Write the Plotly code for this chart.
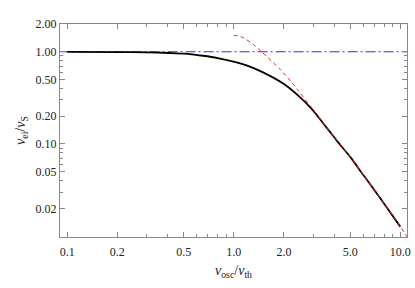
import plotly.graph_objects as go
import numpy as np

# Black solid curve (full result)
x_full = [0.1, 0.2, 0.3, 0.412, 0.5, 0.653, 0.8, 1.04, 1.25, 1.5, 1.98, 2.44, 3.0, 3.44, 4.0, 4.24, 5.0, 6.0, 7.0, 8.0, 10.0]
y_full = [0.997, 0.993, 0.985, 0.97, 0.955, 0.905, 0.855, 0.766, 0.69, 0.597, 0.452, 0.334, 0.23, 0.168, 0.119, 0.104, 0.0725, 0.046, 0.0315, 0.0225, 0.0127]

# Red dashed curve (asymptotic form)
x_asym = [1.0, 1.05, 1.14, 1.31, 1.47, 1.89, 2.27, 2.44, 3.0, 3.44, 4.0, 5.0, 6.0, 7.0, 8.0, 10.0, 11.0]
y_asym = [1.50, 1.49, 1.42, 1.20, 1.0, 0.65, 0.447, 0.378, 0.236, 0.170, 0.120, 0.0728, 0.0462, 0.0316, 0.0226, 0.0128, 0.0098]

# Dash-dot reference line
x_ref = [0.09, 11.0]
y_ref = [1.0, 1.0]

x_ticks = [0.1, 0.2, 0.5, 1.0, 2.0, 5.0, 10.0]
x_ticklabels = ["0.1", "0.2", "0.5", "1.0", "2.0", "5.0", "10.0"]
y_ticks = [0.02, 0.05, 0.1, 0.2, 0.5, 1.0, 2.0]
y_ticklabels = ["0.02", "0.05", "0.10", "0.20", "0.50", "1.00", "2.00"]

x_minor = [v * 10.0**e for e in (-2, -1, 0, 1) for v in range(1, 10)]
x_minor = [v for v in x_minor if 0.08 < v < 12 and round(v, 6) not in [round(t, 6) for t in x_ticks]]
y_minor = [v * 10.0**e for e in (-2, -1, 0) for v in range(1, 10)]
y_minor = [v for v in y_minor if 0.0095 < v < 2.05 and round(v, 6) not in [round(t, 6) for t in y_ticks]]

fig = go.Figure()
fig.add_trace(go.Scatter(x=x_ref, y=y_ref, mode="lines",
                         line=dict(color="#2e2ee6", width=1, dash="10px,3px,2px,3px"),
                         showlegend=False))
fig.add_trace(go.Scatter(x=x_full, y=y_full, mode="lines", line_shape="spline",
                         line=dict(color="black", width=1.8, smoothing=0.8), showlegend=False))
fig.add_trace(go.Scatter(x=x_asym, y=y_asym, mode="lines", line_shape="spline",
                         line=dict(color="#ff2020", width=1, dash="4px,3px", smoothing=0.8),
                         showlegend=False))

font = dict(family="Liberation Serif", size=12, color="#222222")
axis_common = dict(
    type="log", showgrid=False, zeroline=False, showline=True, linecolor="#888888",
    linewidth=1, mirror="allticks", ticks="inside", ticklen=5, tickcolor="#888888",
    tickfont=font, tickmode="array", automargin=False,
)
fig.update_xaxes(**axis_common, range=[np.log10(0.0905), np.log10(10.97)],
                 tickvals=x_ticks, ticktext=x_ticklabels, ticklabelstandoff=4,
                 minor=dict(tickvals=x_minor, ticks="inside", ticklen=3, tickcolor="#888888"),
                 title=dict(text="<i>v</i><sub>osc</sub>/<i>v</i><sub>th</sub>",
                            font=dict(family="Liberation Serif", size=14, color="#222222"),
                            standoff=6))
fig.update_yaxes(**axis_common, range=[np.log10(0.0098), np.log10(2.0)],
                 tickvals=y_ticks, ticktext=y_ticklabels,
                 minor=dict(tickvals=y_minor, ticks="inside", ticklen=3, tickcolor="#888888"),
                 title=dict(text="<i>ν</i><sub>ei</sub>/<i>ν</i><sub>S</sub>",
                            font=dict(family="Liberation Serif", size=14, color="#222222"),
                            standoff=6))
fig.update_layout(width=415, height=288, margin=dict(l=60, r=8, t=24, b=51),
                  plot_bgcolor="white", paper_bgcolor="white")
fig.write_html("out.html", config={"displayModeBar": False},
               post_script="document.body.style.margin='0';document.body.style.overflow='hidden';")
